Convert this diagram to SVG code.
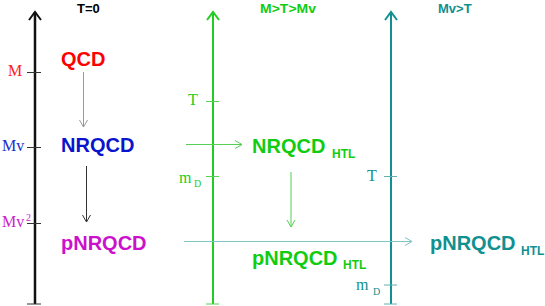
<svg xmlns="http://www.w3.org/2000/svg" width="545" height="306" viewBox="0 0 545 306">
<style>
.sans{font-family:"Liberation Sans",Arial,sans-serif;font-weight:bold}
.serif{font-family:"Liberation Serif","Times New Roman",serif}
.big{font-size:20px}
.sub{font-size:12px}
.hdr{font-size:13px}
.lab{font-size:16px}
.sm{font-size:10px}
line,path,polyline{fill:none}
</style>
<defs>
<marker id="ah-gray" markerUnits="userSpaceOnUse" markerWidth="12" markerHeight="12" refX="8" refY="5" orient="auto" overflow="visible"><polyline points="1,1 8,5 1,9" stroke="#999" stroke-width="1"/></marker>
<marker id="ah-dark" markerUnits="userSpaceOnUse" markerWidth="12" markerHeight="12" refX="8" refY="5" orient="auto" overflow="visible"><polyline points="1,1 8,5 1,9" stroke="#333" stroke-width="1"/></marker>
<marker id="ah-lgreen" markerUnits="userSpaceOnUse" markerWidth="12" markerHeight="12" refX="8" refY="5" orient="auto" overflow="visible"><polyline points="1,1 8,5 1,9" stroke="#55d055" stroke-width="1"/></marker>
<marker id="ah-lteal" markerUnits="userSpaceOnUse" markerWidth="12" markerHeight="12" refX="8" refY="5" orient="auto" overflow="visible"><polyline points="1,1 8,5 1,9" stroke="#80c4c4" stroke-width="1"/></marker>
</defs>
<rect width="545" height="306" fill="#fff"/>

<g id="axis-T0">
<line x1="35" y1="304" x2="35" y2="12" stroke="#111" stroke-width="2.5"/>
<polyline points="29,20 35,12 41,20" stroke="#111" stroke-width="2"/>
<g stroke="#333" stroke-width="1">
<line x1="27" y1="72.5" x2="41" y2="72.5"/>
<line x1="27" y1="147.5" x2="41" y2="147.5"/>
<line x1="27" y1="223.5" x2="41" y2="223.5"/>
<line x1="27" y1="304" x2="41" y2="304"/>
</g>
<text class="sans hdr" x="77" y="12.5" fill="#000">T=0</text>
<text class="serif lab" x="8" y="76" fill="#ff2020">M</text>
<text class="serif lab" x="2" y="151" fill="#1a2ecc">Mv</text>
<text class="serif lab" x="2" y="227" fill="#cc22cc">Mv<tspan class="sm" x="26" y="221">2</tspan></text>
</g>

<g id="axis-green">
<line x1="213" y1="304" x2="213" y2="12" stroke="#22cc22" stroke-width="2"/>
<polyline points="207,20 213,12 219,20" stroke="#22cc22" stroke-width="2"/>
<g stroke="#55d055" stroke-width="1">
<line x1="206" y1="101.5" x2="219" y2="101.5"/>
<line x1="206" y1="176.5" x2="219" y2="176.5"/>
<line x1="206" y1="304" x2="219" y2="304"/>
</g>
<text class="sans hdr" x="260" y="12.5" fill="#11cc11" textLength="56" lengthAdjust="spacingAndGlyphs">M&gt;T&gt;Mv</text>
<text class="serif lab" x="188" y="105" fill="#22cc22">T</text>
<text class="serif lab" x="179" y="182.5" fill="#22cc22">m<tspan class="sm" x="194" y="187">D</tspan></text>
</g>

<g id="axis-teal">
<line x1="391" y1="304" x2="391" y2="12" stroke="#109090" stroke-width="2"/>
<polyline points="385,20 391,12 397,20" stroke="#109090" stroke-width="2"/>
<g stroke="#60b0b0" stroke-width="1">
<line x1="384" y1="176.5" x2="397" y2="176.5"/>
<line x1="384" y1="285" x2="397" y2="285"/>
<line x1="384" y1="304" x2="397" y2="304"/>
</g>
<text class="sans hdr" x="438" y="12.5" fill="#109090">Mv&gt;T</text>
<text class="serif lab" x="367" y="180.5" fill="#109090">T</text>
<text class="serif lab" x="356" y="290" fill="#109090">m<tspan class="sm" x="373" y="295">D</tspan></text>
</g>

<g id="node-QCD"><text class="sans big" x="61" y="66" fill="#ff0000">QCD</text></g>
<g id="node-NRQCD"><text class="sans big" x="61" y="152" fill="#0a14cc">NRQCD</text></g>
<g id="node-pNRQCD"><text class="sans big" x="61" y="250" fill="#cc11cc">pNRQCD</text></g>
<g id="node-NRQCD-HTL"><text class="sans big" x="252" y="153" fill="#11cc11">NRQCD<tspan class="sub" x="332" y="158">HTL</tspan></text></g>
<g id="node-pNRQCD-HTL-green"><text class="sans big" x="252" y="265" fill="#11cc11">pNRQCD<tspan class="sub" x="343" y="269">HTL</tspan></text></g>
<g id="node-pNRQCD-HTL-teal"><text class="sans big" x="430" y="250" fill="#109090">pNRQCD<tspan class="sub" x="521" y="255">HTL</tspan></text></g>

<g id="connectors" stroke-width="1">
<line x1="83.5" y1="72" x2="83.5" y2="127" stroke="#999" marker-end="url(#ah-gray)"/>
<line x1="86.5" y1="166" x2="86.5" y2="222" stroke="#333" marker-end="url(#ah-dark)"/>
<line x1="186" y1="144.5" x2="242" y2="144.5" stroke="#55d055" marker-end="url(#ah-lgreen)"/>
<line x1="291" y1="172" x2="291" y2="227" stroke="#55d055" marker-end="url(#ah-lgreen)"/>
<line x1="184" y1="241.5" x2="412" y2="241.5" stroke="#80c4c4" marker-end="url(#ah-lteal)"/>
</g>
</svg>
